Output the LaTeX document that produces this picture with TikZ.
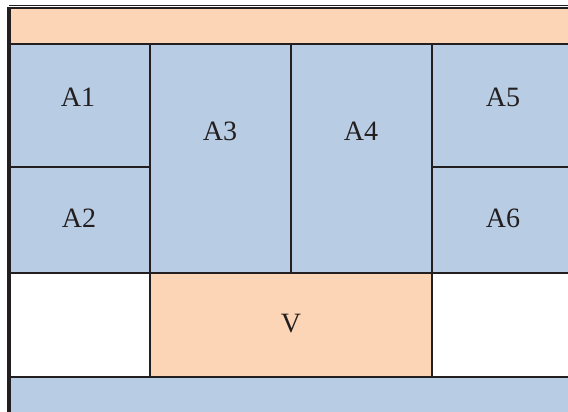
\documentclass[tikz,border=0pt]{standalone}
\usepackage{fontspec}
\setmainfont{Liberation Serif}
\usepackage{tikz}
\definecolor{peach}{HTML}{FBD5B5}
\definecolor{paleblue}{HTML}{B8CCE4}
\definecolor{rule}{HTML}{231F20}

\begin{document}
\begin{tikzpicture}[x=1pt,y=-1pt,
  cell/.style={draw=rule,line width=2pt},
  lbl/.style={font=\fontsize{28}{30}\selectfont,text=rule,inner sep=0pt}]
\clip(0,0)rectangle(568,412);
% bands and cells
\draw[cell,fill=peach](9,8.5)rectangle(575,44);
\draw[cell,fill=paleblue](9,44)rectangle(150,167);
\draw[cell,fill=paleblue](9,167)rectangle(150,273);
\draw[cell,fill=paleblue](150,44)rectangle(291,273);
\draw[cell,fill=paleblue](291,44)rectangle(432,273);
\draw[cell,fill=paleblue](432,44)rectangle(575,167);
\draw[cell,fill=paleblue](432,167)rectangle(575,273);
\draw[cell,fill=white](9,273)rectangle(150,377);
\draw[cell,fill=peach](150,273)rectangle(432,377);
\draw[cell,fill=white](432,273)rectangle(575,377);
\draw[cell,fill=paleblue](9,377)rectangle(575,420);
% outer border
\draw[rule,line width=4pt](9,7.5)--(9,420);
\draw[rule,line width=1.6pt](7,8.5)--(575,8.5);
\draw[rule,line width=1.3pt](9,5.8)--(575,5.8);
% labels
\node[lbl](a1)at(78,97){A1};
\node[lbl](a2)at(79,218){A2};
\node[lbl](a3)at(220,131){A3};
\node[lbl](a4)at(361,131){A4};
\node[lbl](a5)at(503,97){A5};
\node[lbl](a6)at(503,218){A6};
\node[lbl](v)at(291,324){V};
\end{tikzpicture}
\end{document}
